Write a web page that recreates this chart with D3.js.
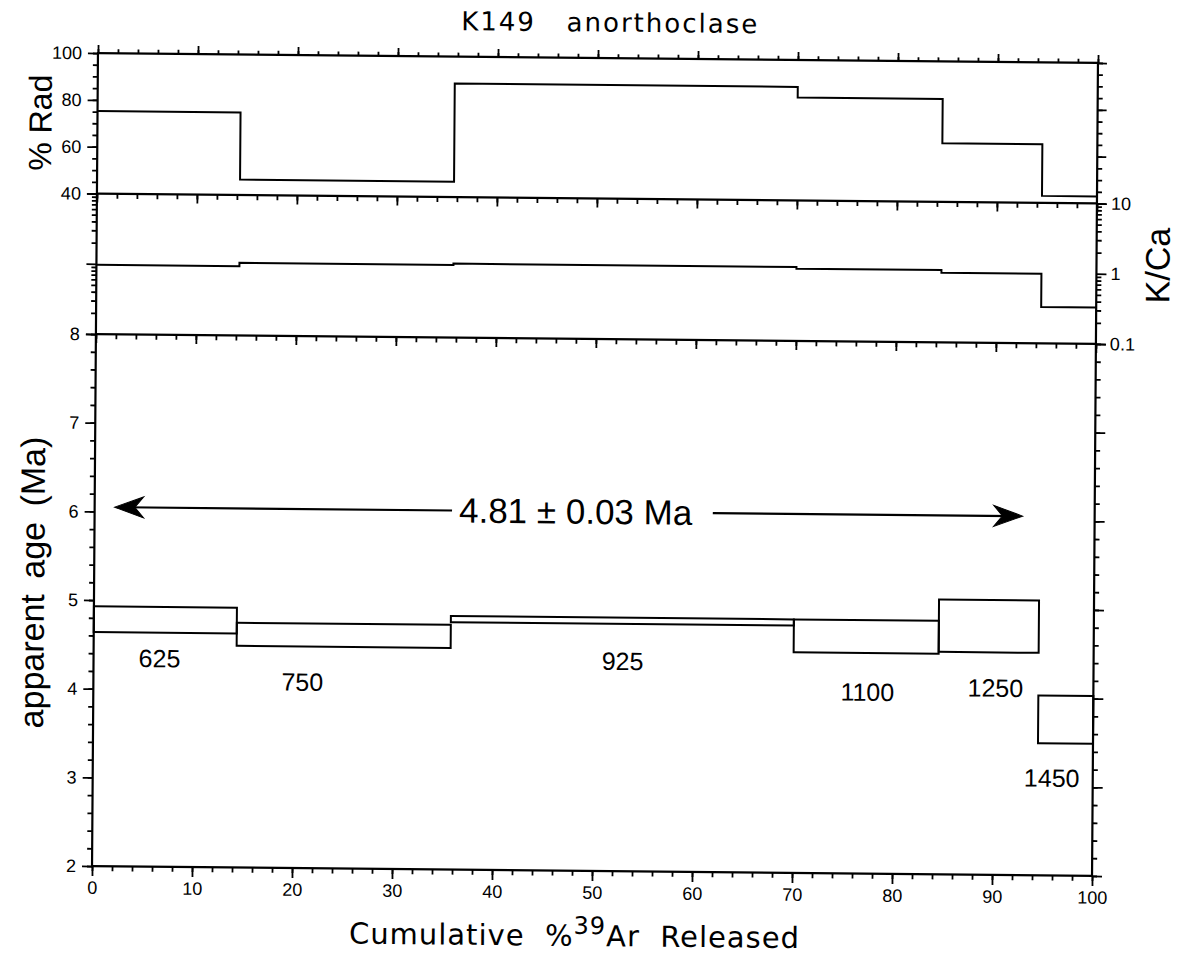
<!DOCTYPE html>
<html>
<head>
<meta charset="utf-8">
<script src="https://cdn.jsdelivr.net/npm/d3@7"></script>
<style>
  html, body { margin: 0; padding: 0; background: #fff; }
  svg { display: block; }
  .tick text { font-family: "Liberation Sans", Arial, sans-serif; font-size: 18px; fill: #000; }
  .tick line { stroke: #000; stroke-width: 1.8; }
</style>
</head>
<body>
<svg id="chart" width="1184" height="961"></svg>
<script>
// Step-heating steps: boundaries in cumulative % 39Ar released
const stepEdges = [0, 14.3, 35.7, 70, 84.5, 94.5, 100];
// Furnace temperature of each step (°C)
const stepTemps = [625, 750, 925, 1100, 1250, 1450];
// Radiogenic 40Ar (%)
const radPct = [75.2, 46.6, 88.5, 84.0, 65.0, 43.0];
// K/Ca ratio
const kCa = [0.97, 1.08, 1.13, 1.07, 0.98, 0.33];
// Apparent age, lower and upper limits of each box (Ma)
const ageLow = [4.64, 4.50, 4.79, 4.49, 4.51, 3.49];
const ageHigh = [4.93, 4.76, 4.86, 4.86, 5.10, 4.03];
// Where each temperature label sits: cumulative % and age (Ma)
const labelX = [6.6, 20.9, 52.9, 77.4, 90.2, 95.9];
const labelAge = [4.25, 4.00, 4.27, 3.95, 4.01, 3.00];
// Plateau age annotation
const plateauText = "4.81 ± 0.03 Ma";
const plateauSpan = [2.0, 92.8];   // arrow ends, cumulative %
const plateauArrowAge = 6.05;      // height of the arrow, Ma
const plateauTextX = 48.1;

// Axis ticks
const xMajor = d3.range(0, 101, 10);
const xMinor = d3.range(0, 101, 2);
const radMajor = [40, 60, 80, 100];
const radMinor = d3.range(40, 101, 5);
const kcaMajor = [0.1, 1, 10];
const kcaMinor = [0.2, 0.3, 0.4, 0.5, 0.6, 0.7, 0.8, 0.9, 2, 3, 4, 5, 6, 7, 8, 9];
const kcaLabels = ["0.1", "1", "10"];
const ageMajor = [2, 3, 4, 5, 6, 7, 8];
const ageMinor = d3.range(20, 81, 2).map(d => d / 10);

// ---- layout ----
const L = 95, R = 1095, T = 58, D1 = 198.5, D2 = 339, B = 871;
const svg = d3.select("#chart");
// the printed sheet sits slightly askew
const g = svg.append("g").attr("transform", "matrix(1,0.0099,-0.0073,1,3.39,-5.89)");

const x = d3.scaleLinear().domain([0, 100]).range([L, R]);
const yRad = d3.scaleLinear().domain([40, 100]).range([D1, T]);
const yKca = d3.scaleLog().domain([0.1, 10]).range([D2, D1]);
const yAge = d3.scaleLinear().domain([2, 8]).range([B, D2]);

const sans = '"Liberation Sans", Arial, sans-serif';
const wide = '"DejaVu Sans", Verdana, sans-serif';

function addAxis(axis, tx, ty) {
  const a = g.append("g").attr("transform", `translate(${tx},${ty})`).call(axis);
  a.select(".domain").remove();
  return a;
}
const none = () => "";

// x ticks: top edge points up, the others point down
addAxis(d3.axisTop(x).tickValues(xMinor).tickSize(4).tickFormat(none), 0, T);
addAxis(d3.axisTop(x).tickValues(xMajor).tickSize(8).tickFormat(none), 0, T);
[D1, D2].forEach(yy => {
  addAxis(d3.axisBottom(x).tickValues(xMinor).tickSize(5).tickFormat(none), 0, yy);
  addAxis(d3.axisBottom(x).tickValues(xMajor).tickSize(9).tickFormat(none), 0, yy);
});
addAxis(d3.axisBottom(x).tickValues(xMinor).tickSize(5).tickFormat(none), 0, B);
addAxis(d3.axisBottom(x).tickValues(xMajor).tickSize(10).tickPadding(5).tickFormat(d3.format("d")), 0, B);

// %Rad axes
addAxis(d3.axisLeft(yRad).tickValues(radMinor).tickSize(5).tickFormat(none), L, 0);
addAxis(d3.axisLeft(yRad).tickValues(radMajor).tickSize(10).tickPadding(6).tickFormat(d3.format("d")), L, 0);
addAxis(d3.axisRight(yRad).tickValues(radMinor).tickSize(5).tickFormat(none), R, 0);
addAxis(d3.axisRight(yRad).tickValues(radMajor).tickSize(9).tickFormat(none), R, 0);

// K/Ca axes (log)
addAxis(d3.axisLeft(yKca).tickValues(kcaMinor).tickSize(5).tickFormat(none), L, 0);
addAxis(d3.axisLeft(yKca).tickValues(kcaMajor).tickSize(10).tickFormat(none), L, 0);
addAxis(d3.axisRight(yKca).tickValues(kcaMinor).tickSize(5).tickFormat(none), R, 0);
addAxis(d3.axisRight(yKca).tickValues(kcaMajor).tickSize(10).tickPadding(4)
  .tickFormat((d, i) => kcaLabels[i]), R, 0);

// age axes
addAxis(d3.axisLeft(yAge).tickValues(ageMinor).tickSize(5).tickFormat(none), L, 0);
addAxis(d3.axisLeft(yAge).tickValues(ageMajor).tickSize(10).tickPadding(6).tickFormat(d3.format("d")), L, 0);
addAxis(d3.axisRight(yAge).tickValues(ageMinor).tickSize(5).tickFormat(none), R, 0);
addAxis(d3.axisRight(yAge).tickValues(ageMajor).tickSize(10).tickFormat(none), R, 0);

// frame and panel dividers
const frame = g.append("g").attr("stroke", "#000").attr("stroke-width", 2.2).attr("fill", "none");
frame.append("rect").attr("x", L).attr("y", T).attr("width", R - L).attr("height", B - T);
[D1, D2].forEach(yy => frame.append("line").attr("x1", L).attr("x2", R).attr("y1", yy).attr("y2", yy));

// step spectra for %Rad and K/Ca
function stepPath(vals, ys) {
  const pts = [];
  vals.forEach((v, i) => {
    pts.push([x(stepEdges[i]), ys(v)]);
    pts.push([x(stepEdges[i + 1]), ys(v)]);
  });
  return d3.line()(pts);
}
g.append("path").attr("d", stepPath(radPct, yRad))
  .attr("fill", "none").attr("stroke", "#000").attr("stroke-width", 2);
g.append("path").attr("d", stepPath(kCa, yKca))
  .attr("fill", "none").attr("stroke", "#000").attr("stroke-width", 2);

// age spectrum boxes
g.append("g").selectAll("rect").data(stepTemps).join("rect")
  .attr("x", (d, i) => x(stepEdges[i]))
  .attr("width", (d, i) => x(stepEdges[i + 1]) - x(stepEdges[i]))
  .attr("y", (d, i) => yAge(ageHigh[i]))
  .attr("height", (d, i) => yAge(ageLow[i]) - yAge(ageHigh[i]))
  .attr("fill", "none").attr("stroke", "#000").attr("stroke-width", 2);

// temperature labels
g.append("g").selectAll("text").data(stepTemps).join("text")
  .attr("x", (d, i) => x(labelX[i]))
  .attr("y", (d, i) => yAge(labelAge[i]))
  .attr("text-anchor", "middle")
  .attr("font-family", sans).attr("font-size", 25)
  .text(d => d);

// plateau arrow with its label
const ay = yAge(plateauArrowAge);
const ptxt = g.append("text")
  .attr("x", x(plateauTextX)).attr("y", ay + 12)
  .attr("text-anchor", "middle")
  .attr("font-family", sans).attr("font-size", 35)
  .text(plateauText);
const bb = ptxt.node().getBBox();
const arrowG = g.append("g").attr("stroke", "#000").attr("stroke-width", 2.2);
arrowG.append("line").attr("x1", x(plateauSpan[0]) + 10).attr("x2", bb.x - 7).attr("y1", ay).attr("y2", ay);
arrowG.append("line").attr("x1", bb.x + bb.width + 20).attr("x2", x(plateauSpan[1]) - 10).attr("y1", ay).attr("y2", ay);
const head = "M0,0 L-29,-10.5 L-21,-1 L-21,1 L-29,10.5 Z";
g.append("path").attr("d", head).attr("fill", "#000").attr("stroke", "#000").attr("stroke-width", 1)
  .attr("stroke-linejoin", "miter")
  .attr("transform", `translate(${x(plateauSpan[0])},${ay}) scale(-1,1)`);
g.append("path").attr("d", head).attr("fill", "#000").attr("stroke", "#000").attr("stroke-width", 1)
  .attr("transform", `translate(${x(plateauSpan[1])},${ay})`);

// title and axis titles
g.append("text").attr("x", 607).attr("y", 31.5).attr("text-anchor", "middle")
  .attr("font-family", wide).attr("font-size", 26).attr("letter-spacing", 2)
  .style("white-space", "pre").text("K149   anorthoclase");

const xl = g.append("text").attr("x", 578).attr("y", 946).attr("text-anchor", "middle")
  .attr("font-family", wide).attr("font-size", 29).attr("letter-spacing", 1)
  .style("white-space", "pre");
xl.append("tspan").text("Cumulative  %");
xl.append("tspan").attr("dy", -12).attr("font-size", 24).text("39");
xl.append("tspan").attr("dy", 12).text("Ar  Released");

g.append("text").attr("transform", `translate(49,${(T + D1) / 2}) rotate(-90)`)
  .attr("text-anchor", "middle").attr("font-family", sans).attr("font-size", 32)
  .text("% Rad");
g.append("text").attr("transform", `translate(45,588) rotate(-90)`)
  .attr("text-anchor", "middle").attr("font-family", sans).attr("font-size", 34)
  .attr("word-spacing", 6)
  .text("apparent age (Ma)");
g.append("text").attr("transform", `translate(1168,260) rotate(-90)`)
  .attr("text-anchor", "middle").attr("font-family", sans).attr("font-size", 34)
  .text("K/Ca");
</script>
</body>
</html>
